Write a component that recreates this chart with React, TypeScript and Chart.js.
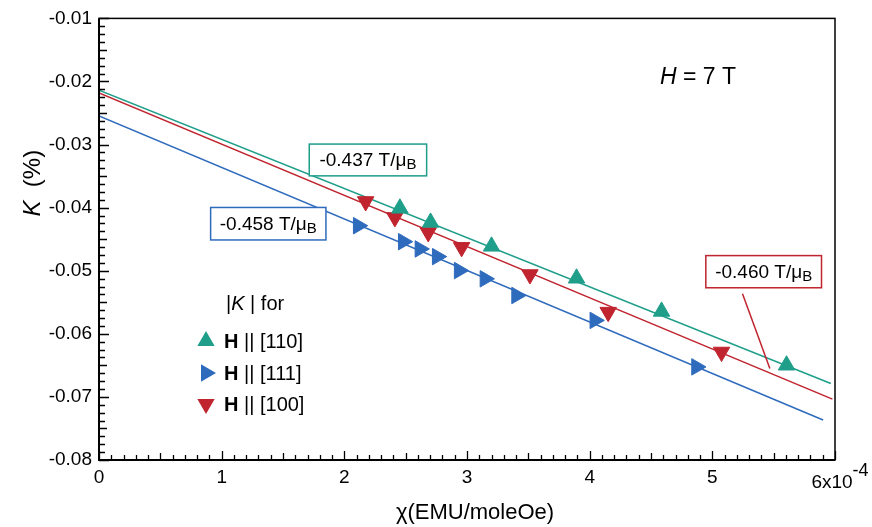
import React, { useEffect, useRef } from 'react';
import { Chart, registerables } from 'chart.js';

Chart.register(...registerables);

// χ in units of 1e-4 EMU/moleOe, K in %
const chi110 = [2.453, 2.703, 3.2, 3.893, 4.586, 5.605];
const k110 = [-0.0401, -0.04234, -0.04613, -0.05119, -0.05645, -0.06498];
const chi111 = [2.113, 2.48, 2.616, 2.757, 2.936, 3.146, 3.404, 4.042, 4.871];
const k111 = [-0.04286, -0.04539, -0.04654, -0.04776, -0.04997, -0.05128, -0.05392, -0.05787, -0.06524];
const chi100 = [2.174, 2.412, 2.684, 2.956, 3.513, 4.151, 5.075];
const k100 = [-0.03902, -0.04155, -0.04392, -0.04629, -0.0506, -0.05656, -0.06288];

// linear fits (endpoints)
const fitChi110 = [0, 5.966];
const fitK110 = [-0.02137, -0.06787];
const fitChi111 = [0, 5.903];
const fitK111 = [-0.02548, -0.07366];
const fitChi100 = [0, 5.979];
const fitK100 = [-0.0218, -0.07035];

const xTicks = [0, 1, 2, 3, 4, 5, 6];
const xTickLabels = ['0', '1', '2', '3', '4', '5', ''];
const yTicks = [-0.08, -0.07, -0.06, -0.05, -0.04, -0.03, -0.02, -0.01];
const yTickLabels = ['-0.08', '-0.07', '-0.06', '-0.05', '-0.04', '-0.03', '-0.02', '-0.01'];

const slopes = ['-0.437', '-0.458', '-0.460'];
const seriesNames = ['[110]', '[111]', '[100]'];

const TEAL = '#1f9e8a';
const BLUE = '#2f6bbd';
const RED = '#c0242e';
const FONT = '"Liberation Sans", Arial, Helvetica, sans-serif';

// annotation layout (in axis units)
const ANN = {
  boxes: [
    { color: TEAL, x0: 1.714, x1: 2.671, y0: -0.02992, y1: -0.03496 },
    { color: BLUE, x0: 0.91, x1: 1.85, y0: -0.03997, y1: -0.04512 },
    { color: RED, x0: 4.947, x1: 5.89, y0: -0.0476, y1: -0.0527 },
  ],
  leader: { x0: 5.246, y0: -0.05365, x1: 5.469, y1: -0.0655 },
};

function tri(ctx: CanvasRenderingContext2D, x: number, y: number, r: number, rotDeg: number, color: string) {
  let rad = (rotDeg * Math.PI) / 180;
  ctx.beginPath();
  for (let i = 0; i < 3; i++) {
    const px = x + Math.sin(rad) * r;
    const py = y - Math.cos(rad) * r;
    if (i === 0) ctx.moveTo(px, py);
    else ctx.lineTo(px, py);
    rad += (2 * Math.PI) / 3;
  }
  ctx.closePath();
  ctx.fillStyle = color;
  ctx.fill();
}

function drawRuns(ctx: CanvasRenderingContext2D, x: number, y: number, runs: [string, string][]) {
  let cx = x;
  for (const [t, f] of runs) {
    ctx.font = f;
    ctx.fillText(t, cx, y);
    cx += ctx.measureText(t).width;
  }
}

const overlay = {
  id: 'overlay',
  afterDraw(chart: any) {
    const ctx: CanvasRenderingContext2D = chart.ctx;
    const xs = chart.scales.x;
    const ys = chart.scales.y;
    const { left, right, top, bottom } = chart.chartArea;
    ctx.save();

    // frame
    ctx.strokeStyle = '#000';
    ctx.lineWidth = 1.5;
    ctx.strokeRect(left, top, right - left, bottom - top);
    ctx.lineWidth = 2;
    ctx.beginPath();
    ctx.moveTo(left, top);
    ctx.lineTo(left, bottom);
    ctx.lineTo(right, bottom);
    ctx.stroke();

    // inside ticks
    ctx.lineWidth = 1.3;
    ctx.beginPath();
    for (let i = 0; i <= 60; i++) {
      const v = i / 10;
      const px = Math.round(xs.getPixelForValue(v)) + 0.5;
      const len = i % 10 === 0 ? 9 : i % 5 === 0 ? 7 : 5;
      ctx.moveTo(px, bottom);
      ctx.lineTo(px, bottom - len);
    }
    for (let i = 0; i <= 56; i++) {
      const v = -0.08 + i * 0.00125;
      const py = Math.round(ys.getPixelForValue(v)) + 0.5;
      const len = i % 8 === 0 ? 10 : i % 4 === 0 ? 8 : 6;
      ctx.moveTo(left, py);
      ctx.lineTo(left + len, py);
    }
    ctx.stroke();

    // 6x10^-4 label
    ctx.fillStyle = '#000';
    ctx.textBaseline = 'middle';
    ctx.textAlign = 'left';
    const p6 = xs.getPixelForValue(6);
    ctx.font = `19px ${FONT}`;
    const w6 = ctx.measureText('6x10').width;
    ctx.fillText('6x10', p6 - w6 / 2 - 3, 483);
    ctx.font = `18px ${FONT}`;
    ctx.fillText('-4', p6 - 3 + w6 / 2, 471);

    // axis titles
    ctx.textAlign = 'left';
    ctx.textBaseline = 'alphabetic';
    ctx.font = `22px ${FONT}`;
    const xt = 'χ(EMU/moleOe)';
    const xtw = ctx.measureText(xt).width;
    ctx.fillText(xt, (left + right) / 2 - xtw / 2 + 8, 519);

    ctx.save();
    ctx.translate(40, (top + bottom) / 2 - 56);
    ctx.rotate(-Math.PI / 2);
    ctx.font = `italic 24px ${FONT}`;
    const kw = ctx.measureText('K').width;
    ctx.font = `24px ${FONT}`;
    const pw = ctx.measureText('  (%)').width;
    drawRuns(ctx, -(kw + pw) / 2, 0, [
      ['K', `italic 24px ${FONT}`],
      ['  (%)', `24px ${FONT}`],
    ]);
    ctx.restore();

    // H = 7 T
    drawRuns(ctx, 660, 84, [
      ['H', `italic 23px ${FONT}`],
      [' = 7 T', `23px ${FONT}`],
    ]);

    // slope boxes
    ANN.boxes.forEach((b, i) => {
      const x0 = xs.getPixelForValue(b.x0);
      const x1 = xs.getPixelForValue(b.x1);
      const y0 = ys.getPixelForValue(b.y0);
      const y1 = ys.getPixelForValue(b.y1);
      ctx.fillStyle = '#fff';
      ctx.fillRect(x0, y0, x1 - x0, y1 - y0);
      ctx.strokeStyle = b.color;
      ctx.lineWidth = 1.5;
      ctx.strokeRect(x0, y0, x1 - x0, y1 - y0);
      const main = `${slopes[i]} T/μ`;
      ctx.font = `19px ${FONT}`;
      const w1 = ctx.measureText(main).width;
      ctx.font = `15px ${FONT}`;
      const w2 = ctx.measureText('B').width;
      const sx = (x0 + x1) / 2 - (w1 + w2) / 2;
      const base = (y0 + y1) / 2 + 6;
      ctx.fillStyle = '#000';
      ctx.font = `19px ${FONT}`;
      ctx.fillText(main, sx, base);
      ctx.font = `15px ${FONT}`;
      ctx.fillText('B', sx + w1, base + 3.5);
    });

    // leader line
    ctx.strokeStyle = RED;
    ctx.lineWidth = 1.5;
    ctx.beginPath();
    ctx.moveTo(xs.getPixelForValue(ANN.leader.x0), ys.getPixelForValue(ANN.leader.y0));
    ctx.lineTo(xs.getPixelForValue(ANN.leader.x1), ys.getPixelForValue(ANN.leader.y1));
    ctx.stroke();

    // legend
    ctx.fillStyle = '#000';
    ctx.textBaseline = 'middle';
    drawRuns(ctx, 226, 304, [
      ['|', `20px ${FONT}`],
      ['K', `italic 20px ${FONT}`],
      [' |', `20px ${FONT}`],
      [' for', `20px ${FONT}`],
    ]);
    const rows = [
      { y: 341, rot: 0, color: TEAL },
      { y: 373, rot: 90, color: BLUE },
      { y: 404, rot: 180, color: RED },
    ];
    rows.forEach((r, i) => {
      tri(ctx, 206, r.y, 10, r.rot, r.color);
      ctx.fillStyle = '#000';
      drawRuns(ctx, 224, r.y + 1, [
        ['H', `bold 20px ${FONT}`],
        [` || ${seriesNames[i]}`, `20px ${FONT}`],
      ]);
    });

    ctx.restore();
  },
};

function pts(xs: number[], ys: number[]) {
  return xs.map((x, i) => ({ x, y: ys[i] }));
}

export default function App() {
  const ref = useRef<HTMLCanvasElement | null>(null);
  useEffect(() => {
    document.body.style.margin = '0';
    if (!ref.current) return;
    const lineDs = (d: any, c: string) => ({
      type: 'line',
      data: d,
      borderColor: c,
      borderWidth: 1.5,
      pointRadius: 0,
      showLine: true,
      fill: false,
      order: 2,
    });
    const ptDs = (d: any, c: string, rot: number) => ({
      type: 'scatter',
      data: d,
      backgroundColor: c,
      borderColor: c,
      borderWidth: 1,
      pointStyle: 'triangle',
      rotation: rot,
      pointRadius: 9.5,
      showLine: false,
      order: 1,
    });
    const chart = new Chart(ref.current, {
      type: 'scatter',
      data: {
        datasets: [
          lineDs(pts(fitChi110, fitK110), TEAL),
          lineDs(pts(fitChi111, fitK111), BLUE),
          lineDs(pts(fitChi100, fitK100), RED),
          ptDs(pts(chi110, k110), TEAL, 0),
          ptDs(pts(chi111, k111), BLUE, 90),
          ptDs(pts(chi100, k100), RED, 180),
        ] as any,
      },
      options: {
        responsive: false,
        animation: false,
        layout: { padding: { left: 0, top: 17, right: 37, bottom: 0 } },
        plugins: { legend: { display: false }, tooltip: { enabled: false } },
        scales: {
          x: {
            type: 'linear',
            min: 0,
            max: 6,
            grid: { display: false, drawTicks: false },
            border: { display: false },
            ticks: {
              color: '#000',
              font: { family: FONT, size: 19 },
              padding: 6,
              maxRotation: 0,
              callback: (v: any) => {
                const i = xTicks.indexOf(Math.round(Number(v)));
                return i >= 0 ? xTickLabels[i] : '';
              },
            },
            afterBuildTicks: (s: any) => {
              s.ticks = xTicks.map((v) => ({ value: v }));
            },
            afterFit: (s: any) => {
              s.height = 67;
            },
          },
          y: {
            type: 'linear',
            min: -0.08,
            max: -0.01,
            grid: { display: false, drawTicks: false },
            border: { display: false },
            ticks: {
              color: '#000',
              font: { family: FONT, size: 19 },
              padding: 7,
              callback: (v: any) => {
                const i = yTicks.findIndex((t) => Math.abs(t - Number(v)) < 1e-6);
                return i >= 0 ? yTickLabels[i] : '';
              },
            },
            afterBuildTicks: (s: any) => {
              s.ticks = yTicks.map((v) => ({ value: v }));
            },
            afterFit: (s: any) => {
              s.width = 99;
            },
          },
        },
      } as any,
      plugins: [overlay],
    });
    return () => chart.destroy();
  }, []);
  return <canvas ref={ref} width={872} height={527} style={{ display: 'block' }} />;
}
